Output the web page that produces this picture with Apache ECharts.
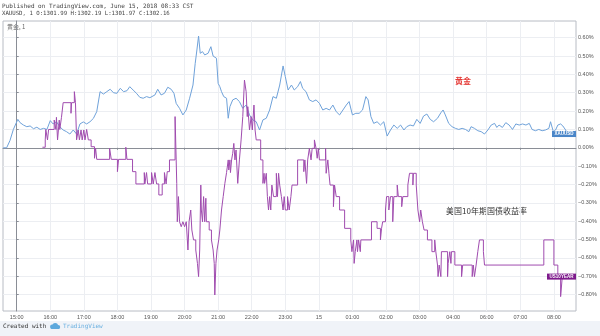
<!DOCTYPE html>
<html><head><meta charset="utf-8">
<script src="https://cdn.jsdelivr.net/npm/echarts@6/dist/echarts.min.js"></script>
<style>html,body{margin:0;padding:0;background:#fff;}#c{width:600px;height:336px;}</style>
</head><body><div id="c"></div>
<script>
// XAUUSD, percent change vs first bar (1-minute chart)
const goldTimes = ["14:36","14:42","14:48","14:54","15:02","15:06","15:12","15:18","15:24","15:30","15:36","15:42","15:48","15:54","16:00","16:05","16:11","16:17","16:23","16:29","16:35","16:41","16:47","16:53","16:59","17:05","17:11","17:17","17:23","17:29","17:35","17:41","17:47","17:53","17:59","18:05","18:11","18:17","18:22","18:28","18:34","18:40","18:46","18:52","18:58","19:01","19:07","19:12","19:18","19:24","19:30","19:36","19:41","19:45","19:51","19:57","20:03","20:09","20:15","20:19","20:22","20:25","20:28","20:32","20:36","20:42","20:47","20:51","20:57","21:00","21:03","21:06","21:10","21:15","21:18","21:21","21:26","21:32","21:38","21:44","21:50","21:56","22:02","22:08","22:14","22:20","22:26","22:32","22:38","22:44","22:50","22:56","23:00","23:05","23:11","23:16","23:22","23:27","23:31","23:37","23:43","23:49","23:55","00:01","00:07","00:13","00:19","00:25","00:31","00:37","00:43","00:49","00:54","01:00","01:06","01:12","01:18","01:24","01:28","01:33","01:38","01:44","01:50","01:56","02:02","02:08","02:14","02:20","02:26","02:32","02:37","02:43","02:49","02:55","03:01","03:07","03:13","03:19","03:25","03:32","03:38","03:42","03:46","03:52","03:58","04:04","04:10","04:16","04:22","04:28","04:32","04:38","04:44","04:50","04:56","06:02","06:08","06:14","06:18","06:22","06:28","06:34","06:40","06:46","06:52","06:58","07:04","07:10","07:16","07:21","07:27","07:33","07:39","07:45","07:51","07:54","07:59","08:03","08:07","08:12","08:16","08:21","08:24"];
const goldValues = [0.00,0.00,0.04,0.10,0.155,0.137,0.124,0.115,0.119,0.104,0.112,0.10,0.106,0.10,0.148,0.13,0.142,0.115,0.097,0.088,0.075,0.097,0.075,0.13,0.141,0.13,0.142,0.16,0.197,0.306,0.293,0.306,0.319,0.30,0.297,0.324,0.306,0.311,0.333,0.315,0.297,0.275,0.27,0.279,0.273,0.279,0.288,0.319,0.288,0.297,0.33,0.319,0.297,0.242,0.215,0.179,0.206,0.27,0.342,0.46,0.533,0.609,0.515,0.524,0.506,0.515,0.551,0.50,0.488,0.351,0.333,0.306,0.279,0.27,0.161,0.224,0.261,0.27,0.252,0.215,0.233,0.179,0.152,0.142,0.097,0.152,0.161,0.206,0.279,0.27,0.342,0.446,0.388,0.315,0.342,0.315,0.333,0.361,0.324,0.306,0.261,0.252,0.261,0.242,0.206,0.215,0.206,0.233,0.197,0.179,0.206,0.233,0.252,0.179,0.188,0.188,0.206,0.279,0.261,0.17,0.133,0.142,0.124,0.142,0.064,0.097,0.124,0.106,0.124,0.097,0.115,0.124,0.119,0.155,0.133,0.173,0.184,0.155,0.142,0.161,0.191,0.206,0.179,0.133,0.115,0.106,0.10,0.106,0.10,0.088,0.115,0.106,0.093,0.088,0.075,0.097,0.124,0.133,0.111,0.124,0.111,0.137,0.124,0.10,0.13,0.124,0.13,0.124,0.133,0.10,0.093,0.10,0.093,0.097,0.106,0.142,0.088,0.097,0.124,0.13,0.119,0.097,0.075];

// US10YEAR, percent change (steps)
const yieldTimes = ["15:46","15:51","15:52","15:55","15:57","16:07","16:10","16:11","16:13","16:16","16:17","16:20","16:23","16:37","16:38","16:43","16:45","16:47","16:50","16:52","16:55","16:57","17:00","17:02","17:05","17:08","17:13","17:19","17:21","17:23","17:46","17:49","18:00","18:02","18:15","18:17","18:27","18:33","18:48","18:49","18:52","18:54","19:01","19:04","19:07","19:10","19:14","19:20","19:24","19:27","19:29","19:33","19:43","19:45","19:46","19:47","19:49","19:51","19:54","19:57","20:00","20:03","20:06","20:08","20:11","20:13","20:16","20:20","20:23","20:25","20:27","20:29","20:30","20:32","20:34","20:36","20:38","20:39","20:44","20:48","20:51","20:53","20:54","20:56","20:58","21:01","21:03","21:06","21:09","21:12","21:15","21:18","21:19","21:21","21:22","21:24","21:26","21:28","21:30","21:32","21:35","21:38","21:41","21:44","21:47","21:50","21:52","21:53","21:56","21:59","22:01","22:04","22:06","22:08","22:16","22:20","22:22","22:23","22:26","22:28","22:30","22:32","22:34","22:36","22:39","22:44","22:46","22:48","22:50","22:53","22:56","22:58","23:00","23:04","23:07","23:10","23:12","23:22","23:33","23:35","23:38","23:40","23:43","23:46","23:48","23:52","23:55","23:57","23:59","00:01","00:12","00:13","00:16","00:18","00:20","00:26","00:28","00:31","00:37","00:46","00:57","00:59","01:02","01:03","01:05","01:08","01:09","01:11","01:14","01:15","01:34","01:44","01:50","01:52","01:54","01:59","02:01","02:05","02:08","02:12","02:14","02:20","02:22","02:28","02:30","02:39","02:42","02:48","02:49","02:54","02:57","03:00","03:02","03:05","03:08","03:14","03:22","03:27","03:29","03:32","03:33","03:35","03:38","03:39","03:50","03:51","03:54","03:56","03:57","04:03","04:15","04:17","04:34","04:36","04:38","04:41","04:44","04:47","04:54","04:56","07:42","08:00","08:07","08:12","08:15","08:24"];
const yieldValues = [0.003,0.043,0.10,0.043,0.10,0.151,0.10,0.166,0.043,0.151,0.10,0.166,0.246,0.188,0.246,0.306,0.246,0.043,0.097,0.043,0.097,0.043,0.097,0.043,0.10,0.043,0.006,-0.057,-0.003,-0.063,-0.003,-0.063,-0.13,-0.063,0.003,-0.063,-0.13,-0.197,-0.135,-0.197,-0.135,-0.197,-0.135,-0.197,-0.135,-0.197,-0.257,-0.197,-0.135,-0.197,-0.13,-0.066,0.17,-0.066,-0.194,-0.403,-0.266,-0.403,-0.43,-0.403,-0.43,-0.403,-0.557,-0.403,-0.339,-0.448,-0.502,-0.557,-0.63,-0.702,-0.557,-0.203,-0.339,-0.403,-0.266,-0.403,-0.275,-0.403,-0.448,-0.502,-0.557,-0.63,-0.802,-0.63,-0.557,-0.502,-0.448,-0.339,-0.266,-0.194,-0.135,-0.066,-0.121,-0.066,-0.135,-0.066,-0.03,0.024,-0.066,-0.012,-0.194,-0.066,0.043,0.17,0.369,0.306,0.17,0.224,0.097,0.17,0.097,0.233,0.097,0.043,-0.066,-0.194,-0.139,-0.194,-0.139,-0.266,-0.339,-0.266,-0.339,-0.203,-0.266,-0.139,-0.266,-0.139,-0.203,-0.266,-0.339,-0.266,-0.339,-0.266,-0.339,-0.266,-0.203,-0.066,-0.13,-0.066,-0.194,-0.066,-0.003,-0.066,-0.003,0.043,-0.003,-0.057,-0.003,-0.066,-0.003,-0.139,-0.066,-0.139,-0.203,-0.321,-0.203,-0.266,-0.339,-0.439,-0.502,-0.566,-0.502,-0.63,-0.566,-0.502,-0.566,-0.502,-0.566,-0.502,-0.403,-0.439,-0.502,-0.439,-0.403,-0.339,-0.266,-0.339,-0.266,-0.403,-0.266,-0.203,-0.266,-0.321,-0.266,-0.203,-0.139,-0.203,-0.139,-0.203,-0.339,-0.403,-0.339,-0.403,-0.448,-0.502,-0.566,-0.502,-0.566,-0.639,-0.702,-0.639,-0.702,-0.566,-0.702,-0.63,-0.566,-0.63,-0.566,-0.639,-0.702,-0.639,-0.702,-0.639,-0.702,-0.639,-0.566,-0.502,-0.566,-0.639,-0.502,-0.639,-0.702,-0.811,-0.702,-0.702];

const yTicks = [-0.8,-0.7,-0.6,-0.5,-0.4,-0.3,-0.2,-0.1,0,0.1,0.2,0.3,0.4,0.5,0.6];
const xTicks = [0,60,120,180,240,300,360,420,480,540,600,660,720,780,840,900,960]; // trading minutes after 15:00
const dayLabel = "15";
const xMin = -24.5, xMax = 999.5, yMin = -0.8894, yMax = 0.691;

// trading-minute scale: minutes after 15:00, skipping the 05:00-06:00 break
function toMin(s){ const p=s.split(':').map(Number); let v=p[0]*60+p[1]-900; if(v<-120) v+=1440; if(v>=900) v-=60; return v; }
function tickLabel(v){ const real = v>=840 ? v+60 : v; const c=(900+real)%1440; if(c===0) return dayLabel; const h=Math.floor(c/60); return (h<10?'0':'')+h+':00'; }
function pct(v){ if(Math.abs(v)<1e-9) return '0.00%'; return (v<0?'\u2212':'')+Math.abs(v).toFixed(2)+'%'; }

const goldData = goldTimes.map((t,i)=>[toMin(t), goldValues[i]]);
const yieldData = yieldTimes.map((t,i)=>[toMin(t), yieldValues[i]]);

const chart = echarts.init(document.getElementById('c'), null, {renderer:'canvas'});
const mono = '"DejaVu Sans Mono", monospace';
chart.setOption({
  animation:false,
  backgroundColor:'#ffffff',
  grid:{left:3,right:24,top:21,bottom:25,show:true,borderColor:'#b8bcc4',borderWidth:1,containLabel:false},
  xAxis:{type:'value',min:xMin,max:xMax,
    axisLine:{show:true,lineStyle:{color:'#8a8e96'}},
    axisTick:{show:true,length:2,customValues:xTicks,lineStyle:{color:'#8a8e96'}},
    axisLabel:{customValues:xTicks,formatter:tickLabel,fontSize:5.5,color:'#555',margin:3,fontFamily:'Arial'},
    splitLine:{show:true,lineStyle:{color:'#eceef2',width:1}}
  },
  yAxis:{type:'value',position:'right',min:yMin,max:yMax,
    axisLine:{show:true,lineStyle:{color:'#8a8e96'}},
    axisTick:{show:true,length:2,customValues:yTicks,lineStyle:{color:'#8a8e96'}},
    axisLabel:{customValues:yTicks,formatter:pct,fontSize:5.5,color:'#555',margin:2,fontFamily:'Arial'},
    splitLine:{show:true,lineStyle:{color:'#eceef2',width:1}}
  },
  series:[
    {type:'line',name:'XAUUSD',data:goldData,showSymbol:false,symbol:'none',z:3,
     lineStyle:{color:'#6fa2da',width:1},
     markPoint:{symbol:'rect',symbolSize:[24,6],symbolOffset:[-12,0],silent:true,
       itemStyle:{color:'#4a86c8'},
       label:{show:true,position:'inside',formatter:'XAUUSD',color:'#fff',fontSize:4.5,fontFamily:'Arial',fontWeight:'bold'},
       data:[{coord:[xMax, goldValues[goldValues.length-1]]}]}},
    {type:'line',name:'US10YEAR',data:yieldData,step:'end',showSymbol:false,symbol:'none',z:4,
     lineStyle:{color:'#a04caf',width:1},
     markPoint:{symbol:'rect',symbolSize:[29,6],symbolOffset:[-14.5,0],silent:true,
       itemStyle:{color:'#7e1a8c'},
       label:{show:true,position:'inside',formatter:'US10YEAR',color:'#fff',fontSize:4.5,fontFamily:'Arial',fontWeight:'bold'},
       data:[{coord:[xMax, yieldValues[yieldValues.length-1]]}]}}
  ],
  graphic:[
    {type:'text',left:2,top:3,style:{text:'Published on TradingView.com, June 15, 2018 08:33 CST',fill:'#444',font:'6px '+mono}},
    {type:'text',left:2,top:11,style:{text:'XAUUSD, 1 O:1301.99 H:1302.19 L:1301.97 C:1302.16',fill:'#444',font:'5.7px '+mono}},
    {type:'text',left:7,top:24,style:{text:'黄金, 1',fill:'#666',font:'6px "Noto Sans CJK SC"'}},
    {type:'text',left:455,top:77,style:{text:'黄金',fill:'#e53935',font:'bold 8px "Noto Sans CJK SC"'}},
    {type:'text',left:446,top:207,style:{text:'美国10年期国债收益率',fill:'#333',font:'8px "Noto Sans CJK SC"'}},
    {type:'rect',shape:{x:0,y:321,width:600,height:15},style:{fill:'#f0f3f8'},z:-1},
    {type:'text',left:3,top:323,style:{text:'Created with',fill:'#333',font:'6px '+mono}},
    {type:'group',left:50,top:323,children:[
      {type:'circle',shape:{cx:3,cy:4,r:2.2},style:{fill:'#5ea9dd'}},
      {type:'circle',shape:{cx:6,cy:3,r:2.8},style:{fill:'#5ea9dd'}},
      {type:'circle',shape:{cx:9,cy:4.2,r:2},style:{fill:'#5ea9dd'}},
      {type:'rect',shape:{x:2,y:4,width:8,height:2.2},style:{fill:'#5ea9dd'}}
    ]},
    {type:'text',left:63,top:323,style:{text:'TradingView',fill:'#6ab0e0',font:'6px '+mono}}
  ]
});
</script></body></html>
